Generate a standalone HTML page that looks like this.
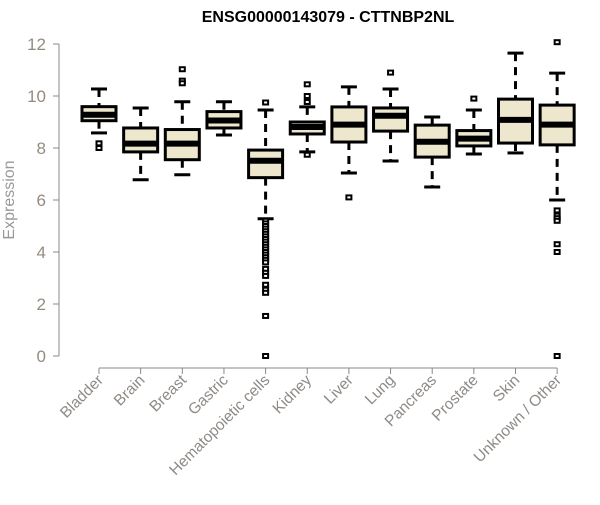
<!DOCTYPE html>
<html><head><meta charset="utf-8"><style>
body{margin:0;background:#fff}
svg text{font-family:"Liberation Sans",Arial,sans-serif}
</style></head><body>
<svg id="chart" width="600" height="500" viewBox="0 0 600 500">
<text x="328" y="22" text-anchor="middle" font-size="16" font-weight="bold" fill="#000">ENSG00000143079 - CTTNBP2NL</text>
<text transform="translate(14,200) rotate(-90)" text-anchor="middle" font-size="16" fill="#999">Expression</text>
<g id="yaxis"></g>
<g id="xaxis"></g>
<g id="boxes"></g>
</svg>
<script>
const categories=["Bladder","Brain","Breast","Gastric","Hematopoietic cells","Kidney","Liver","Lung","Pancreas","Prostate","Skin","Unknown / Other"];
const whiskerLow=[8.58,6.78,6.97,8.5,5.28,7.85,7.04,7.5,6.5,7.77,7.81,6.0];
const q1=[9.05,7.85,7.55,8.77,6.86,8.54,8.23,8.65,7.65,8.08,8.19,8.12];
const medians=[9.28,8.17,8.17,9.06,7.51,8.81,8.9,9.24,8.24,8.36,9.08,8.9];
const q3=[9.59,8.77,8.71,9.4,7.92,9.0,9.58,9.54,8.88,8.67,9.88,9.65];
const whiskerHigh=[10.27,9.54,9.78,9.78,9.46,9.58,10.35,10.27,9.19,9.46,11.65,10.88];
const outliers=[[8.18,8.0],[],[11.03,10.59,10.49],[],
[9.75,5.2,5.1,5.0,4.9,4.8,4.7,4.6,4.5,4.4,4.3,4.2,4.1,4.0,3.9,3.8,3.7,3.6,3.35,3.2,3.08,2.74,2.55,2.43,1.54,0],
[10.45,10.0,9.77,7.74],[6.1],[10.9],[],[9.9],[],[12.07,5.6,5.4,5.3,5.2,4.3,4.0,0]];
const yTicks=[0,2,4,6,8,10,12];
const NS="http://www.w3.org/2000/svg";
const y=v=>356-26*v;
const x=i=>99+i*41.65;
function mk(tag,attrs,parent){const e=document.createElementNS(NS,tag);for(const k in attrs)e.setAttribute(k,attrs[k]);parent.appendChild(e);return e;}
const ya=document.getElementById('yaxis');
mk('line',{x1:59,x2:59,y1:y(0),y2:y(12),stroke:'#888'},ya);
yTicks.forEach(t=>{
 mk('line',{x1:53,x2:59,y1:y(t),y2:y(t),stroke:'#888'},ya);
 const tx=mk('text',{x:46,y:y(t)+6,'text-anchor':'end','font-size':17,fill:'#948b80'},ya);
 tx.textContent=t;
 
 
});
const xa=document.getElementById('xaxis');
mk('line',{x1:x(0),x2:x(11),y1:368,y2:368,stroke:'#888'},xa);
categories.forEach((c,i)=>{
 mk('line',{x1:x(i),x2:x(i),y1:368,y2:374,stroke:'#888'},xa);
 const tx=mk('text',{transform:`translate(${x(i)+5},${381}) rotate(-45)`,'text-anchor':'end','font-size':15.5,fill:'#8f8a85'},xa);
 tx.textContent=c;
 
 
});
const bx=document.getElementById('boxes');
categories.forEach((c,i)=>{
 const g=mk('g',{},bx);
 
 
 const cx=x(i),hw=17;
 mk('line',{x1:cx,x2:cx,y1:y(whiskerHigh[i]),y2:y(q3[i]),stroke:'#000','stroke-width':3,'stroke-dasharray':'8,6'},g);
 mk('line',{x1:cx,x2:cx,y1:y(q1[i]),y2:y(whiskerLow[i]),stroke:'#000','stroke-width':3,'stroke-dasharray':'8,6'},g);
 mk('line',{x1:cx-8,x2:cx+8,y1:y(whiskerHigh[i]),y2:y(whiskerHigh[i]),stroke:'#000','stroke-width':3},g);
 mk('line',{x1:cx-8,x2:cx+8,y1:y(whiskerLow[i]),y2:y(whiskerLow[i]),stroke:'#000','stroke-width':3},g);
 mk('rect',{x:cx-hw,y:y(q3[i]),width:2*hw,height:y(q1[i])-y(q3[i]),fill:'#ede7cd',stroke:'#000','stroke-width':3},g);
 mk('line',{x1:cx-hw,x2:cx+hw,y1:y(medians[i]),y2:y(medians[i]),stroke:'#000','stroke-width':6},g);
 outliers[i].forEach(v=>{
  const r=mk('rect',{x:cx-2.5,y:y(v)-2,width:5,height:4,fill:'#fff',stroke:'#000','stroke-width':2},g);
  
  
 });
});
</script>
</body></html>
